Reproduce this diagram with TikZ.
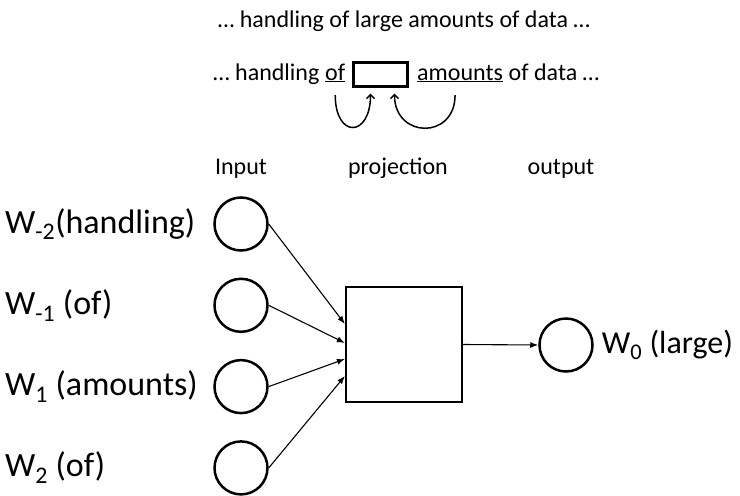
\documentclass[tikz,border=0pt]{standalone}
\usepackage{fontspec}
\setmainfont{Carlito}
\usetikzlibrary{positioning,arrows.meta}

\begin{document}
\begin{tikzpicture}[x=1pt,y=1pt,node distance=81.3pt,on grid,
   unit/.style={circle,draw,line width=2.5pt,minimum size=53pt,inner sep=0pt},
   proj/.style={rectangle,draw,line width=2.2pt,minimum width=116pt,minimum height=115pt},
   wlabel/.style={inner sep=0pt,font=\fontsize{34pt}{38pt}\selectfont},
   head/.style={inner sep=0pt,font=\fontsize{24pt}{28pt}\selectfont},
   feed/.style={-{Latex[length=8pt,width=6pt]},line width=1.1pt},
   ctx/.style={-{Straight Barb[length=4pt,width=8pt]},line width=1.5pt}]
   \useasboundingbox (0,0) rectangle (740,-496);
   % sentence and context window
   \node[head,anchor=base] (sentence) at (404,-27) {… handling of large amounts of data …};
   \node[head,anchor=base west] (before) at (213,-80) {… handling};
   \node[head,right=5.4pt of before.base east,anchor=base west] (wOf) {\underline{of}};
   \node[draw,line width=2.2pt,minimum width=54pt,minimum height=24pt,inner sep=0pt] (gapBox) at (380.5,-74.5) {};
   \node[head,anchor=base west] (wAmounts) at (417,-80) {\underline{amounts}};
   \node[head,right=5.4pt of wAmounts.base east,anchor=base west] (after) {of data …};
   \draw[ctx] ([yshift=-15pt]wOf.base) .. controls +(0,-44) and +(0,-44) .. ([xshift=-10pt,yshift=-6pt]gapBox.south);
   \draw[ctx] ([xshift=-5pt,yshift=-15pt]wAmounts.base) .. controls +(0,-45) and +(0,-45) .. ([xshift=14pt,yshift=-6pt]gapBox.south);
   % layer headings
   \node[head,anchor=base] (hIn) at (241,-174) {Input};
   \node[head,anchor=base] (hProj) at (398,-174) {projection};
   \node[head,anchor=base] (hOut) at (561,-174) {output};
   % network
   \node[unit] (in1) at (241,-224) {};
   \node[unit] (in2) [below=of in1] {};
   \node[unit] (in3) [below=of in2] {};
   \node[unit] (in4) [below=of in3] {};
   \node[proj] (proj) at (404,-344.5) {};
   \node[unit] (outC) at (566,-345) {};
   \node[wlabel,anchor=west] (l1) at (5,0 |- in1) {W\textsubscript{-2}(handling)};
   \node[wlabel,anchor=west] (l2) at (5,0 |- in2) {W\textsubscript{-1} (of)};
   \node[wlabel,anchor=west] (l3) at (5,0 |- in3) {W\textsubscript{1} (amounts)};
   \node[wlabel,anchor=west] (l4) at (5,0 |- in4) {W\textsubscript{2} (of)};
   \node[wlabel,font=\fontsize{32pt}{36pt}\selectfont,right=8pt of outC.east,anchor=west] (lOut) {W\textsubscript{0} (large)};
   \draw[feed] (in1.east) -- ([yshift=20.5pt]proj.west);
   \draw[feed] (in2.east) -- ([yshift=1.5pt]proj.west);
   \draw[feed] (in3.east) -- ([yshift=-14.5pt]proj.west);
   \draw[feed] (in4.east) -- ([yshift=-31.5pt]proj.west);
   \draw[feed] (proj.east) -- (outC.west);
\end{tikzpicture}
\end{document}
